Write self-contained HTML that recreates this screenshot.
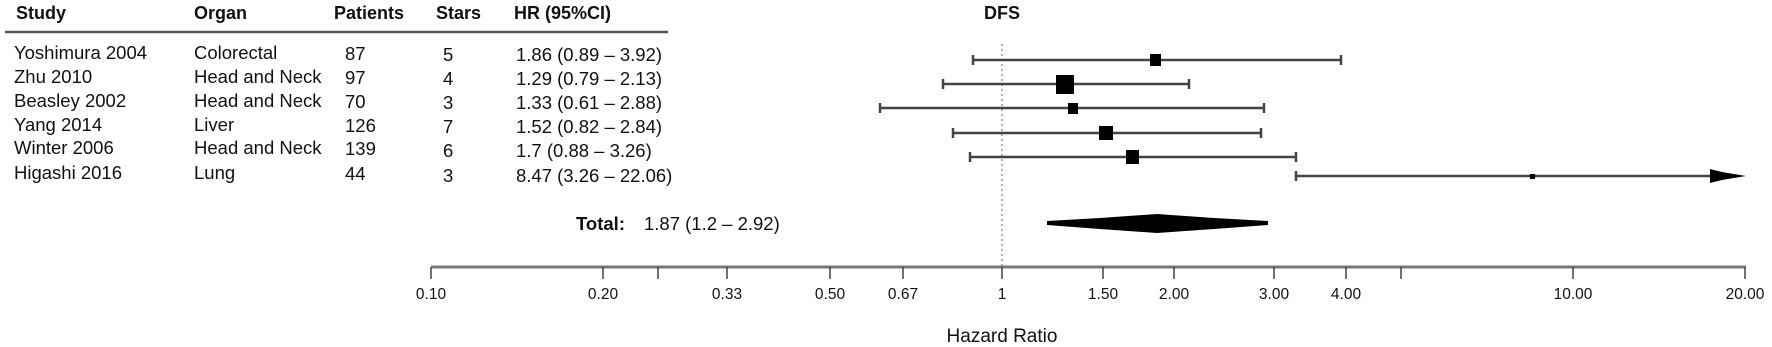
<!DOCTYPE html>
<html><head><meta charset="utf-8"><style>
html,body{margin:0;padding:0;background:#fff}
svg{display:block}
text{font-family:"Liberation Sans",sans-serif;fill:#111}
</style></head><body>
<svg width="1772" height="347" viewBox="0 0 1772 347" xmlns="http://www.w3.org/2000/svg">
<g font-size="18" font-weight="bold" dominant-baseline="middle">
<text x="16" y="14">Study</text>
<text x="194" y="14">Organ</text>
<text x="334" y="14">Patients</text>
<text x="436" y="14">Stars</text>
<text x="514" y="14">HR (95%CI)</text>
<text x="1002" y="14" text-anchor="middle">DFS</text>
</g>
<line x1="5" y1="32" x2="668" y2="32" stroke="#555" stroke-width="2.5"/>
<g font-size="18.5" dominant-baseline="middle">
<text x="14" y="54">Yoshimura 2004</text><text x="194" y="54">Colorectal</text><text x="345" y="55">87</text><text x="443" y="56">5</text><text x="516" y="56">1.86 (0.89 – 3.92)</text>
<text x="14" y="78">Zhu 2010</text><text x="194" y="78">Head and Neck</text><text x="345" y="79">97</text><text x="443" y="80">4</text><text x="516" y="80">1.29 (0.79 – 2.13)</text>
<text x="14" y="102">Beasley 2002</text><text x="194" y="102">Head and Neck</text><text x="345" y="103">70</text><text x="443" y="104">3</text><text x="516" y="104">1.33 (0.61 – 2.88)</text>
<text x="14" y="126">Yang 2014</text><text x="194" y="126">Liver</text><text x="345" y="127">126</text><text x="443" y="128">7</text><text x="516" y="128">1.52 (0.82 – 2.84)</text>
<text x="14" y="149">Winter 2006</text><text x="194" y="149">Head and Neck</text><text x="345" y="150">139</text><text x="443" y="152">6</text><text x="516" y="152">1.7 (0.88 – 3.26)</text>
<text x="14" y="174">Higashi 2016</text><text x="194" y="174">Lung</text><text x="345" y="175">44</text><text x="443" y="177">3</text><text x="516" y="177">8.47 (3.26 – 22.06)</text>
<text x="576" y="225" font-weight="bold">Total:</text><text x="644" y="225">1.87 (1.2 – 2.92)</text>
</g>
<line x1="1002" y1="44" x2="1002" y2="267" stroke="#666" stroke-width="1" stroke-dasharray="2,3"/>
<g stroke="#444" stroke-width="2.5" fill="none">
<path d="M973 60H1341M973 55v10M1341 55v10"/>
<path d="M943 84H1189M943 79v10M1189 79v10"/>
<path d="M880 108H1264M880 103v10M1264 103v10"/>
<path d="M953 133H1261M953 128v10M1261 128v10"/>
<path d="M970 157H1296M970 152v10M1296 152v10"/>
<path d="M1296 176H1712M1296 171v10"/>
</g>
<g fill="#000">
<rect x="1150" y="54" width="11" height="12"/>
<rect x="1056" y="75" width="18" height="19"/>
<rect x="1068" y="103" width="10" height="11"/>
<rect x="1099" y="126" width="14" height="14"/>
<rect x="1126" y="150" width="13" height="14"/>
<rect x="1530" y="174" width="5" height="5"/>
<polygon points="1710,169 1722,172 1746,176 1722,180 1710,183"/>
<polygon points="1047,221 1100,218 1157,214 1214,218 1268,221 1268,225 1214,229 1157,233 1100,229 1047,225"/>
</g>
<line x1="431" y1="267" x2="1746" y2="267" stroke="#777" stroke-width="3"/>
<g stroke="#444" stroke-width="1.5">
<line x1="431" y1="267" x2="431" y2="279"/><line x1="603" y1="267" x2="603" y2="279"/><line x1="658" y1="267" x2="658" y2="279"/><line x1="727" y1="267" x2="727" y2="279"/><line x1="830" y1="267" x2="830" y2="279"/><line x1="903" y1="267" x2="903" y2="279"/><line x1="1002" y1="267" x2="1002" y2="279"/><line x1="1103" y1="267" x2="1103" y2="279"/><line x1="1174" y1="267" x2="1174" y2="279"/><line x1="1274" y1="267" x2="1274" y2="279"/><line x1="1346" y1="267" x2="1346" y2="279"/><line x1="1401" y1="267" x2="1401" y2="279"/><line x1="1573" y1="267" x2="1573" y2="279"/><line x1="1745" y1="267" x2="1745" y2="279"/>
</g>
<g font-size="15.5" text-anchor="middle" dominant-baseline="middle">
<text x="431" y="295">0.10</text><text x="603" y="295">0.20</text><text x="727" y="295">0.33</text><text x="830" y="295">0.50</text><text x="903" y="295">0.67</text><text x="1002" y="295">1</text><text x="1103" y="295">1.50</text><text x="1174" y="295">2.00</text><text x="1274" y="295">3.00</text><text x="1346" y="295">4.00</text><text x="1573" y="295">10.00</text><text x="1745" y="295">20.00</text>
</g>
<text x="1002" y="337" font-size="19" text-anchor="middle" dominant-baseline="middle">Hazard Ratio</text>
</svg>
</body></html>
